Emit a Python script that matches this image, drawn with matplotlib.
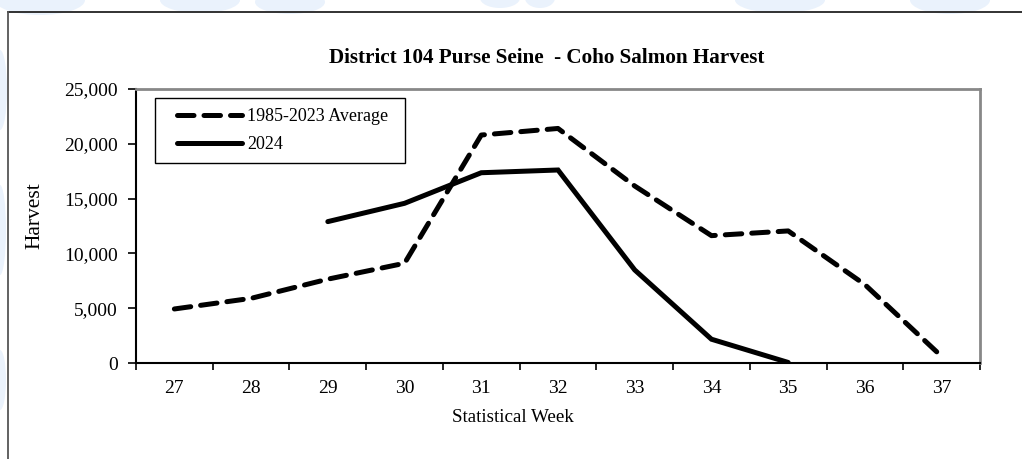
import matplotlib
matplotlib.use("Agg")
import matplotlib.pyplot as plt
from matplotlib.patches import Ellipse, Rectangle
from matplotlib.lines import Line2D
from matplotlib.ticker import FuncFormatter, FixedLocator

# Coho harvest by statistical week, District 104 purse seine
weeks = ["27", "28", "29", "30", "31", "32", "33", "34", "35", "36", "37"]
avg_1985_2023 = [4930, 5900, 7650, 9100, 20800, 21400, 16150, 11620, 12050, 7150, 600]
harvest_2024 = [None, None, 12900, 14570, 17360, 17610, 8490, 2170, 50, None, None]

series_labels = ["1985-2023 Average", "2024"]
title = "District 104 Purse Seine  - Coho Salmon Harvest"
x_label = "Statistical Week"
y_label = "Harvest"
y_ticks = [0, 5000, 10000, 15000, 20000, 25000]

plt.rcParams["font.family"] = ["Liberation Serif", "DejaVu Serif"]

W, H = 1022, 459
fig = plt.figure(figsize=(W / 100, H / 100), dpi=100)
fig.patch.set_facecolor("white")

# faint watermark shapes in the margin outside the frame
wm = "#eaf2fc"
for (cx, cy, w, h) in [(40, 0, 90, 30), (200, 0, 80, 26), (290, 2, 70, 24),
                       (500, -2, 40, 20), (540, -2, 30, 20), (780, 0, 90, 26),
                       (950, 0, 80, 28), (0, 90, 14, 80), (0, 230, 12, 90),
                       (0, 380, 12, 60)]:
    fig.patches.append(Ellipse((cx / W, 1 - cy / H), w / W, h / H,
                               transform=fig.transFigure, facecolor=wm,
                               edgecolor="none", zorder=0))

# outer frame (top and left edges visible)
fig.add_artist(Line2D([8 / W, 1.0], [1 - 12 / H, 1 - 12 / H], transform=fig.transFigure,
                      color="#222222", lw=1.3))
fig.add_artist(Line2D([8 / W, 8 / W], [1 - 12 / H, 0.0], transform=fig.transFigure,
                      color="#555555", lw=1.3))

ax = fig.add_axes([136 / W, 1 - 363 / H, (980 - 136) / W, (363 - 89) / H])
ax.set_facecolor("white")

x = list(range(len(weeks)))
x24 = [xi for xi, v in zip(x, harvest_2024) if v is not None]
y24 = [v for v in harvest_2024 if v is not None]

ax.plot(x, avg_1985_2023, color="black", lw=3.6, linestyle=(0, (3.3, 2.0)),
        dash_capstyle="round", solid_joinstyle="round", label=series_labels[0])
ax.plot(x24, y24, color="black", lw=3.6, solid_capstyle="round",
        solid_joinstyle="miter", label=series_labels[1])

ax.set_xlim(-0.5, len(weeks) - 0.5)
ax.set_ylim(0, 25000)

# category ticks sit on the boundaries; labels centred in each category
ax.xaxis.set_major_locator(FixedLocator([i - 0.5 for i in range(len(weeks) + 1)]))
ax.xaxis.set_minor_locator(FixedLocator(x))
ax.xaxis.set_major_formatter(FuncFormatter(lambda v, p: ""))
ax.xaxis.set_minor_formatter(FuncFormatter(lambda v, p: weeks[int(round(v))]))
ax.tick_params(axis="x", which="major", direction="out", length=5, width=1.2, color="black")
ax.tick_params(axis="x", which="minor", length=0, pad=12, labelsize=14)

ax.set_yticks(y_ticks)
ax.yaxis.set_major_formatter(FuncFormatter(lambda v, p: f"{int(v):,}"))
ax.tick_params(axis="y", direction="out", length=6, width=1.2, pad=7, labelsize=14)

for s in ("left", "bottom"):
    ax.spines[s].set_color("black")
    ax.spines[s].set_linewidth(1.5)
for s in ("top", "right"):
    ax.spines[s].set_color("#888888")
    ax.spines[s].set_linewidth(2.0)

fig.text(547 / W, 1 - 58 / H, title, ha="center", va="center",
         fontsize=15.2, fontweight="bold")
fig.text(513 / W, 1 - 418 / H, x_label, ha="center", va="center", fontsize=13.7)
fig.text(35 / W, 1 - 216 / H, y_label, ha="center", va="center",
         rotation=90, fontsize=15.5)

# legend box with entries inset from its left edge
box = Rectangle((155 / W, 1 - 163 / H), 250 / W, 65 / H,
                transform=fig.transFigure, facecolor="white",
                edgecolor="black", lw=1.0, zorder=4, clip_on=False)
ax.add_artist(box)
leg = ax.legend(loc="upper left", bbox_to_anchor=(172 / W, 1 - 103 / H),
                bbox_transform=fig.transFigure, frameon=False, fontsize=13,
                handlelength=3.6, handletextpad=0.25, borderpad=0.3,
                labelspacing=0.6, borderaxespad=0)
leg.set_zorder(5)

fig.savefig("out.png", dpi=100, facecolor="white")
